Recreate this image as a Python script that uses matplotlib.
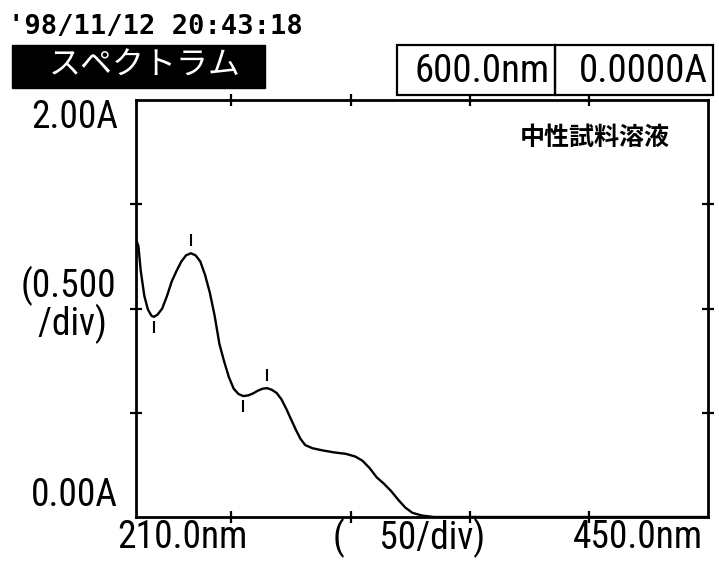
import matplotlib
matplotlib.use('Agg')
import matplotlib.pyplot as plt
import numpy as np
from matplotlib import font_manager
from matplotlib.patches import Rectangle
from matplotlib.transforms import offset_copy

# spectrum: wavelength (nm) -> absorbance (A)
wavelength = [210, 211, 212, 213.5, 215, 216.5, 217.5, 219, 221, 223,
              225, 227, 229, 231, 233, 235, 237, 239, 241, 243,
              245, 247, 249, 251, 253, 255, 257, 259, 261, 263,
              265, 267, 269, 271, 273, 275, 277, 279, 281, 284,
              288, 293, 298, 302, 305, 308, 311, 314, 317, 320,
              323, 326, 330, 335, 340, 450]
absorbance = [1.33, 1.30, 1.18, 1.06, 0.995, 0.965, 0.96, 0.97, 1.00, 1.06,
              1.13, 1.18, 1.225, 1.255, 1.265, 1.255, 1.225, 1.16, 1.075, 0.965,
              0.83, 0.745, 0.67, 0.615, 0.59, 0.58, 0.583, 0.592, 0.605, 0.615,
              0.618, 0.61, 0.595, 0.565, 0.52, 0.47, 0.42, 0.375, 0.345, 0.33,
              0.32, 0.31, 0.303, 0.29, 0.27, 0.235, 0.19, 0.16, 0.125, 0.083,
              0.045, 0.02, 0.007, 0.0, 0.0, 0.0]

peak_nm = [233, 265]
valley_nm = [217.5, 255]

x_ticks = [250, 300, 350, 400]
y_ticks = [0.5, 1.0, 1.5]

date_text = "'98/11/12 20:43:18"
mode_text = 'スペクトラム'
wl_readout = '600.0nm'
abs_readout = '0.0000A'
sample_text = '中性試料溶液'
y_top_label = '2.00A'
y_div_label = '(0.500\n/div) '
y_bottom_label = '0.00A'
x_left_label = '210.0nm'
x_div_label = '(    50/div)'
x_right_label = '450.0nm'

W, H = 719, 564

installed = {f.name for f in font_manager.fontManager.ttflist}
narrow = next((n for n in ['Liberation Sans Narrow', 'Roboto Condensed', 'DejaVu Sans']
               if n in installed), 'DejaVu Sans')
lcd = dict(family=narrow, fontsize=27, color='black')
jp = ['Noto Sans CJK JP', 'DejaVu Sans']

fig = plt.figure(figsize=(W / 100, H / 100), dpi=100)
fig.patch.set_facecolor('white')

# plot frame
ax = fig.add_axes([136 / W, 1 - 517 / H, 572 / W, 417 / H])
ax.plot(wavelength, absorbance, color='black', lw=1.7)

# peak / valley marks
up = offset_copy(ax.transData, fig=fig, x=0, y=13, units='dots')
down = offset_copy(ax.transData, fig=fig, x=0, y=-10, units='dots')
ax.plot(peak_nm, np.interp(peak_nm, wavelength, absorbance), ls='none',
        marker='|', ms=8, mew=1.5, color='black', transform=up)
ax.plot(valley_nm, np.interp(valley_nm, wavelength, absorbance), ls='none',
        marker='|', ms=8, mew=1.5, color='black', transform=down)

ax.set_xlim(210, 450)
ax.set_ylim(0, 2)
ax.set_xticks(x_ticks)
ax.set_yticks(y_ticks)
ax.tick_params(direction='inout', length=9, width=1.6, top=True, right=True,
               labelbottom=False, labelleft=False)
for s in ax.spines.values():
    s.set_linewidth(2)

# overlay in pixel coordinates for the printout header and labels
ov = fig.add_axes([0, 0, 1, 1])
ov.set_xlim(0, W)
ov.set_ylim(H, 0)
ov.axis('off')

ov.text(8, 27, date_text, family='DejaVu Sans Mono', fontweight='bold',
        fontsize=19.5, ha='left', va='center')

ov.add_patch(Rectangle((12, 45), 253, 43, facecolor='black', edgecolor='black'))
ov.text(145, 66, mode_text, family=jp, fontsize=23, color='white',
        ha='center', va='center')

ov.add_patch(Rectangle((397, 45), 158, 50, fill=False, lw=1.6, edgecolor='black'))
ov.add_patch(Rectangle((555, 45), 158, 50, fill=False, lw=1.6, edgecolor='black'))
ov.text(550, 71, wl_readout, ha='right', va='center', **{**lcd, 'fontsize': 28})
ov.text(708, 71, abs_readout, ha='right', va='center', **{**lcd, 'fontsize': 28})

ov.text(595, 138, sample_text, family=jp, fontweight='bold', fontsize=18,
        ha='center', va='center')

ov.text(118, 118, y_top_label, ha='right', va='center', **lcd)
ov.text(116, 305, y_div_label, ha='right', va='center', multialignment='right',
        linespacing=0.95, **lcd)
ov.text(118, 496, y_bottom_label, ha='right', va='center', **lcd)

ov.text(117, 538, x_left_label, ha='left', va='center', **lcd)
ov.text(333, 538, x_div_label, ha='left', va='center', **lcd)
ov.text(703, 538, x_right_label, ha='right', va='center', **lcd)

fig.savefig('out.png', dpi=100, facecolor='white')
